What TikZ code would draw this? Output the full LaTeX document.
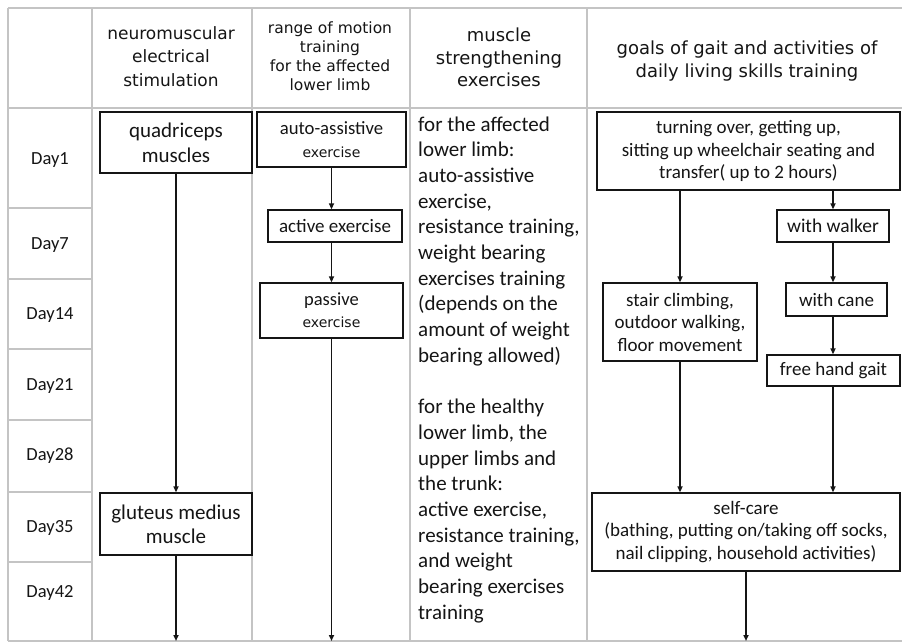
\documentclass[tikz,border=0pt]{standalone}
\usepackage{fontspec}
\setmainfont{Carlito}
\newfontfamily\hdr{DejaVu Sans}
\usetikzlibrary{arrows.meta}
\definecolor{grid}{HTML}{C4C4C4}
\definecolor{ink}{HTML}{151515}
\tikzset{
  tline/.style={draw=grid, line width=1.5pt},
  box/.style={draw=ink, line width=1.3pt, inner sep=0pt, align=center, text=ink,
              font=\fontsize{19}{22.5}\selectfont},
  arr/.style={draw=ink, line width=1.5pt, -{Triangle[length=6pt,width=5pt]}},
  hd/.style={align=center, text=ink, inner sep=0pt},
  daylab/.style={text=ink, inner sep=0pt, font=\fontsize{18.5}{22}\selectfont},
  bodytxt/.style={anchor=base west, text=ink, inner sep=0pt, font=\fontsize{21}{25.7}\selectfont}
}
\begin{document}
\begin{tikzpicture}[x=1pt,y=-1pt]
\useasboundingbox (0,0) rectangle (902,642);
\fill[white] (0,0) rectangle (902,642);
% table grid
\draw[tline] (8,8) -- (902,8);
\draw[tline] (8,108) -- (902,108);
\draw[tline] (8,641) -- (902,641);
\foreach \x in {8,92,252,410,587} \draw[tline] (\x,8) -- (\x,641);
\foreach \y in {208,279,349,420,492,562} \draw[tline] (8,\y) -- (92,\y);
% headers
\node[hd, font=\hdr\fontsize{17}{23.5}\selectfont] (h1) at (171,56.5) {neuromuscular\\electrical\\stimulation};
\node[hd, font=\hdr\fontsize{15.5}{19}\selectfont] (h2) at (330,56.5) {range of motion\\training\\for the affected\\lower limb};
\node[hd, font=\hdr\fontsize{18}{22.5}\selectfont] (h3) at (499,57.5) {muscle\\strengthening\\exercises};
\node[hd, font=\hdr\fontsize{18}{23}\selectfont] (h4) at (747,61.5) {goals of gait and activities of\\daily living skills training};
% day labels
\node[daylab] (d1) at (50,160) {Day1};
\node[daylab] (d7) at (50,245) {Day7};
\node[daylab] (d14) at (50,315) {Day14};
\node[daylab] (d21) at (50,386) {Day21};
\node[daylab] (d28) at (50,456) {Day28};
\node[daylab] (d35) at (50,528) {Day35};
\node[daylab] (d42) at (50,593) {Day42};
% column 1
\node[box, minimum width=152pt, minimum height=61pt, font=\fontsize{21}{25}\selectfont] (quad) at (176,142.5) {quadriceps\\muscles};
\node[box, minimum width=152pt, minimum height=62pt, font=\fontsize{21}{24}\selectfont] (glut) at (176,524) {gluteus medius\\muscle};
\coordinate (e1) at (176,641);
\draw[arr] (quad.south) -- (glut.north);
\draw[arr] (glut.south) -- (e1);
% column 2
\node[box, minimum width=149pt, minimum height=55pt, font=\fontsize{18.7}{23}\selectfont] (auto) at (331.5,139.5) {auto-assistive\\{\hdr\fontsize{14}{23}\selectfont exercise}};
\node[box, minimum width=134pt, minimum height=32pt] (active) at (335,226) {active exercise};
\node[box, minimum width=143pt, minimum height=55pt, font=\fontsize{18.5}{22}\selectfont] (passive) at (331.5,310.5) {passive\\{\hdr\fontsize{14}{22}\selectfont exercise}};
\coordinate (e2) at (331.5,641);
\draw[arr] (auto.south) -- (auto.south |- active.north);
\draw[arr] (auto.south |- active.south) -- (passive.north);
\draw[arr] (passive.south) -- (e2);
% column 3
\foreach \i/\t in {0/for the affected, 1/lower limb:, 2/auto-assistive, 3/{exercise,}, 4/{resistance training,}, 5/weight bearing, 6/exercises training, 7/(depends on the, 8/amount of weight, 9/bearing allowed), 11/for the healthy, 12/{lower limb, the}, 13/upper limbs and, 14/the trunk:, 15/{active exercise,}, 16/{resistance training,}, 17/and weight, 18/bearing exercises, 19/training}
  \node[bodytxt] (c3-\i) at (418,131+25.7*\i) {\t};
% column 4
\node[box, minimum width=303pt, minimum height=78pt] (top4) at (748.5,151) {turning over, getting up,\\sitting up wheelchair seating and\\transfer( up to 2 hours)};
\node[box, minimum width=112pt, minimum height=32pt, font=\fontsize{19.5}{22.5}\selectfont] (walker) at (833,226) {with walker};
\node[box, minimum width=101pt, minimum height=33pt] (cane) at (836.5,299.5) {with cane};
\node[box, minimum width=154pt, minimum height=78pt] (stair) at (680,322) {stair climbing,\\outdoor walking,\\floor movement};
\node[box, minimum width=133pt, minimum height=31pt] (free) at (833.5,370.5) {free hand gait};
\node[box, minimum width=308pt, minimum height=78pt] (self) at (746,532) {self-care\\(bathing, putting on/taking off socks,\\nail clipping, household activities)};
\coordinate (e3) at (746,641);
\draw[arr] (stair.north |- top4.south) -- (stair.north);
\draw[arr] (walker.north |- top4.south) -- (walker.north);
\draw[arr] (walker.south) -- (walker.south |- cane.north);
\draw[arr] (walker.south |- cane.south) -- (walker.south |- free.north);
\draw[arr] (stair.south) -- (stair.south |- self.north);
\draw[arr] (walker.south |- free.south) -- (walker.south |- self.north);
\draw[arr] (self.south) -- (e3);
\end{tikzpicture}
\end{document}
